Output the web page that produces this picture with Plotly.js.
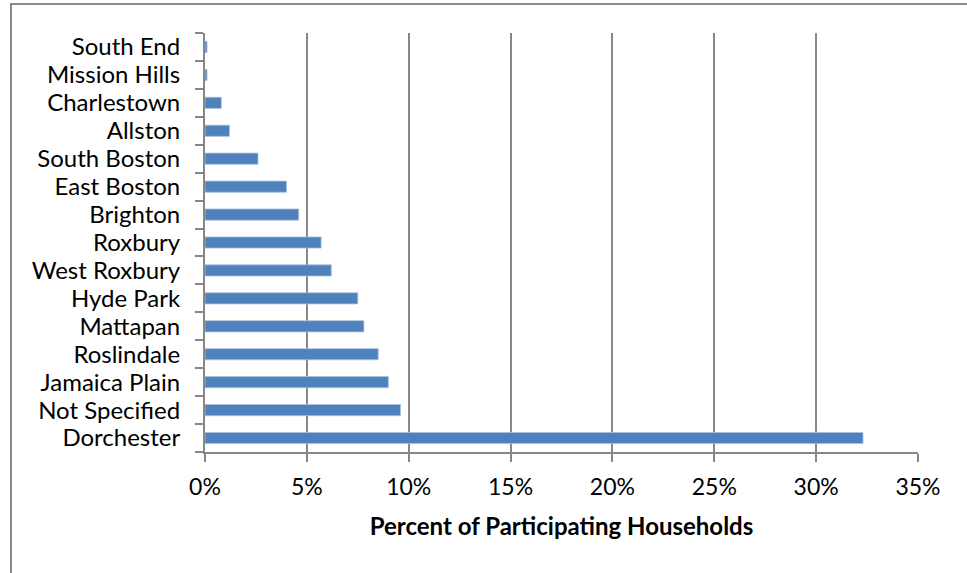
<!DOCTYPE html>
<html>
<head>
<meta charset="utf-8">
<script src="https://cdn.plot.ly/plotly-3.0.1.min.js"></script>
<style>
  html, body { margin: 0; padding: 0; background: #ffffff; overflow: hidden; }
  #frame {
    position: absolute; left: 10px; top: 3px; width: 1200px; height: 900px;
    border-left: 2px solid #8a8a8a; border-top: 2px solid #8a8a8a;
  }
  #chart { position: absolute; left: 0; top: 0; width: 967px; height: 573px; }
</style>
</head>
<body>
<div id="frame"></div>
<div id="chart"></div>
<script>
// Neighborhoods, listed bottom to top as they appear on the axis
const neighborhoods = [
  "Dorchester", "Not Specified", "Jamaica Plain", "Roslindale", "Mattapan",
  "Hyde Park", "West Roxbury", "Roxbury", "Brighton", "East Boston",
  "South Boston", "Allston", "Charlestown", "Mission Hills", "South End"
];
// Share of participating households (fraction)
const shares = [
  0.323, 0.096, 0.090, 0.085, 0.078,
  0.075, 0.062, 0.057, 0.046, 0.040,
  0.026, 0.012, 0.008, 0.001, 0.001
];
const tickValues = [0, 0.05, 0.10, 0.15, 0.20, 0.25, 0.30, 0.35];
const tickLabels = ["0%", "5%", "10%", "15%", "20%", "25%", "30%", "35%"];
const xTitle = "Percent of Participating Households";

const font = "Lato, 'Open Sans', sans-serif";
const grey = "#878787";

const trace = {
  type: "bar",
  orientation: "h",
  y: neighborhoods,
  x: shares,
  marker: { color: "#4f81bd", line: { color: "#a9c1e0", width: 0.8 } },
  hoverinfo: "x+y"
};

const layout = {
  width: 967, height: 573,
  margin: { l: 205, r: 49, t: 33, b: 121 },
  paper_bgcolor: "rgba(0,0,0,0)",
  plot_bgcolor: "rgba(0,0,0,0)",
  bargap: 0.6,
  showlegend: false,
  font: { family: font, color: "#000000" },
  xaxis: {
    range: [0, 0.35],
    tickvals: tickValues,
    ticktext: tickLabels,
    tickfont: { size: 23, family: font, color: "#000" },
    showgrid: true, gridcolor: grey, gridwidth: 2,
    showline: true, linecolor: grey, linewidth: 2,
    ticks: "outside", ticklen: 8, tickcolor: grey, tickwidth: 2,
    ticklabelstandoff: 5,
    zeroline: false,
    title: { text: "<b>" + xTitle + "</b>", font: { size: 24, family: font, color: "#000" }, standoff: 20 }
  },
  yaxis: {
    type: "category",
    categoryorder: "array",
    categoryarray: neighborhoods,
    tickmode: "array",
    tickvals: neighborhoods,
    ticktext: neighborhoods,
    tickson: "boundaries",
    ticks: "outside", ticklen: 8, tickcolor: grey, tickwidth: 2,
    tickfont: { size: 24, family: font, color: "#000" },
    ticklabelstandoff: 18,
    showgrid: false,
    showline: true, linecolor: grey, linewidth: 2,
    zeroline: false
  }
};

Plotly.newPlot("chart", [trace], layout, { displayModeBar: false, staticPlot: true });
</script>
</body>
</html>
